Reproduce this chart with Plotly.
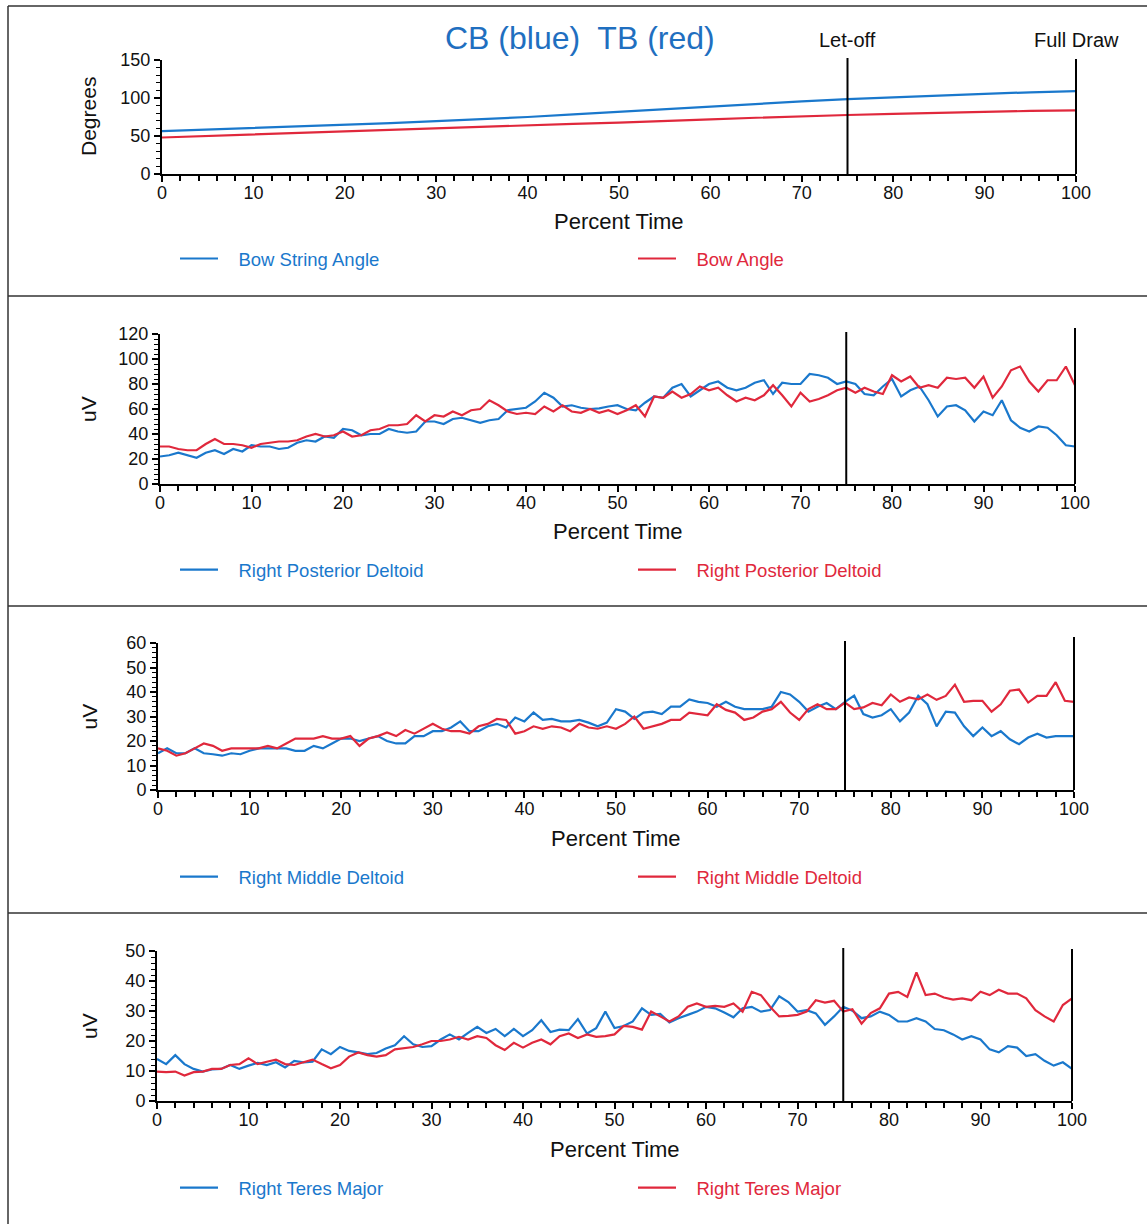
import plotly.graph_objects as go

# ---------------- data ----------------
PCT = list(range(0, 101))
ANGLE_PCT = list(range(0, 101, 5))

BOW_STRING_ANGLE = [56.5, 58.5, 60.5, 62.5, 64.5, 67, 69.5, 72, 75, 78.5, 82, 85.5, 89, 92,
                    95.5, 98.5, 101, 103.5, 105.5, 107.5, 109]
BOW_ANGLE = [48, 50, 52, 54, 55.7, 58, 60, 62.5, 64.5, 66, 67.5, 70, 72, 74, 76, 77.6, 79,
             80.5, 82, 83, 83.8]

POST_DELT_CB = [22, 23, 25, 23, 21, 25, 27, 24, 28, 26, 31, 30, 30, 28, 29, 33, 35, 34, 38, 37,
                44, 43, 39, 40, 40, 44, 42, 41, 42, 50, 50, 48, 52, 53, 51, 49, 51, 52, 59, 60,
                61, 66, 73, 69, 62, 63, 61, 60,
                60.5, 62, 63, 60, 59, 65, 70, 69, 77, 80, 70, 75, 80, 82, 77, 75, 77, 81, 83, 72,
                81, 80, 80, 88, 87, 85, 80, 82, 80, 72, 71, 78, 84, 70, 75, 78, 67, 54, 62, 63,
                59, 50, 58, 55, 67, 51, 45, 42, 46, 45, 39, 31, 30]
POST_DELT_TB = [30, 30, 28, 27, 27, 32, 36, 32, 32, 31, 29, 32, 33, 34, 34, 35, 38, 40, 38, 39,
                42, 38, 39, 43, 44, 47, 47, 48, 55, 50, 55, 54, 58, 55, 59, 60, 67, 63, 58, 56,
                57, 56, 62, 58, 63, 58, 57, 60,
                57, 59, 56, 59, 63, 54, 70, 69, 74, 69, 72, 78, 75, 77, 71, 66, 69, 67, 71, 79,
                71, 62, 73, 66, 68, 71, 75, 77, 73, 77, 74, 72, 87, 82, 86, 77, 79, 77, 85, 84,
                85, 77, 86, 69, 78, 91, 94, 82, 74, 83, 83, 94, 79]

MID_DELT_CB = [15, 17, 15, 15, 17, 15, 14.6, 14, 15, 14.6, 16, 17, 17, 17, 17, 16, 16, 18, 17, 19,
               21, 21, 20, 21, 22, 20, 19, 19, 22, 22, 24, 24, 25.5, 28, 24, 24, 26, 27, 25.5,
               29.6, 28, 31.6, 28.6, 29, 28, 28, 28.6, 27.5,
               26, 27.5, 33, 32, 29, 31.6, 32, 31, 34, 34, 37, 36, 35.5, 34, 36, 34, 33, 33, 33,
               34, 40, 39, 36, 32, 34, 35.5, 33, 36, 38.5, 31, 29.6, 30.5, 33, 28, 31.6, 38.5,
               35, 26, 32, 31.6, 26, 22, 25.5, 22, 24, 20.7, 18.7, 21.4, 23, 21.4, 22, 22, 22]
MID_DELT_TB = [17, 16, 14, 15, 17, 19, 18, 16, 17, 17, 17, 17, 18, 17, 19, 21, 21, 21, 22, 21,
               21, 22, 18, 21, 22, 23.5, 22, 24.5, 23, 25, 27, 25, 24, 24, 23, 26, 27, 29, 28.6,
               23, 24, 26, 25, 26, 25.5, 24, 27, 25.5,
               25, 26, 25, 27, 30, 25, 26, 27, 28.6, 28.6, 31.6, 31, 30.5, 35, 32.7, 31.6, 28.6,
               29.6, 32, 33, 36, 31.6, 28.6, 33, 35, 33, 33, 35.7, 33, 33.7, 35.5, 34.6, 39, 36,
               37.8, 37, 39, 36.8, 38.4, 43, 36, 36.4, 36.4, 32, 35, 40.5, 41, 35.7, 38.4, 38.4,
               44, 36.4, 36]

TERES_CB = [14, 12.3, 15.3, 12.3, 10.7, 9.8, 10.5, 10.7, 12, 10.7, 11.8, 12.7, 12, 12.9, 11.2,
            13.4, 12.9, 13.1, 17.2, 15.6, 18, 16.7, 16.2, 15.6, 16, 17.5, 18.6, 21.6, 18.9, 18,
            18.3, 20.5, 22.2, 20.5, 22.7, 24.7, 22.7, 24, 21.6, 24, 21.6, 23.6, 26.9, 23, 23.8,
            23.6, 27.3, 22.5,
            24.3, 29.8, 24.3, 25, 26.5, 30.9, 28.7, 29, 26.2, 27.6, 28.7, 29.8, 31.4, 30.9, 29.5,
            27.9, 30.9, 31.4, 29.8, 30.3, 34.9, 33, 29.8, 30.3, 29.2, 25.4, 28.2, 31.4, 30.1,
            27.6, 28.2, 29.8, 28.7, 26.5, 26.5, 27.6, 26.5, 24, 23.6, 22.2, 20.5, 21.6, 20.5,
            17.2, 16.2, 18.3, 17.8, 15, 15.6, 13.4, 11.8, 12.9, 10.7]
TERES_TB = [9.8, 9.6, 9.8, 8.5, 9.6, 9.8, 10.7, 10.7, 12, 12.3, 14.2, 12.3, 13.1, 13.8, 12.3, 12,
            12.9, 13.8, 12.3, 10.9, 12, 14.8, 16.2, 15.3, 14.8, 15.3, 17.2, 17.5, 18, 18.9, 20,
            20, 20.5, 21.4, 20.5, 21.6, 21, 18.6, 17, 19.4, 17.8, 19.4, 20.5, 18.9, 21.6, 22.5,
            21, 22.2,
            21.4, 21.6, 22.2, 25, 24.7, 23.8, 29.8, 28.2, 26.5, 28.2, 31.4, 32.5, 31.4, 31.7,
            31.4, 32.5, 29.8, 36.4, 35.3, 31.4, 28.2, 28.4, 28.7, 29.8, 33.6, 32.8, 33.4, 29.8,
            30.6, 25.8, 29.3, 30.9, 35.8, 36.4, 34.7, 42.9, 35.3, 35.8, 34.5, 33.8, 34.2, 33.6,
            36.4, 35.3, 37.1, 35.8, 35.8, 34.2, 30.3, 28.2, 26.5, 32, 34.2]

SERIES_NAMES = [("Bow String Angle", "Bow Angle"),
                ("Right Posterior Deltoid", "Right Posterior Deltoid"),
                ("Right Middle Deltoid", "Right Middle Deltoid"),
                ("Right Teres Major", "Right Teres Major")]
Y_TITLES = ["Degrees", "uV", "uV", "uV"]
Y_MAX = [150, 120, 60, 50]
Y_DTICK = [50, 20, 10, 10]
Y_MINOR = [10, 4, 2, 2]
X_TICKS = list(range(0, 101, 10))
X_MIN, X_MAX = 0, 100
LET_OFF = 75
FULL_DRAW = 100

# ---------------- layout constants ----------------
W, H = 1147, 1224
BLUE = "#1a78cc"
RED = "#e0283c"
TITLE_BLUE = "#1f6fc0"
FONT = "Arial, Liberation Sans, sans-serif"
GAP = "&nbsp;&nbsp;&nbsp;"

# plot boxes in pixels: (left, right, top, bottom)
BOXES = [(162, 1076, 60, 174), (160, 1075, 334, 484), (158, 1074, 643, 790), (157, 1072, 951, 1101)]
XTITLE_Y = [221, 531, 838, 1149]
LEGEND_Y = [259, 570, 877, 1188]
LINE_TOPS_PX = [(58, 59), (332, 328), (641, 637), (948, 949)]
SEPARATORS = [296, 606, 913]


def px(x):
    return x / W


def py(y):
    return 1 - y / H


data_pairs = [
    (ANGLE_PCT, BOW_STRING_ANGLE, BOW_ANGLE),
    (PCT, POST_DELT_CB, POST_DELT_TB),
    (PCT, MID_DELT_CB, MID_DELT_TB),
    (PCT, TERES_CB, TERES_TB),
]

fig = go.Figure()
layout = dict(
    width=W, height=H, margin=dict(l=0, r=0, t=0, b=0, autoexpand=False),
    paper_bgcolor="white", plot_bgcolor="white",
    font=dict(family=FONT, color="black"),
    showlegend=True,
)
shapes = []
annotations = []

for i, (xs, cb, tb) in enumerate(data_pairs):
    n = i + 1
    xa = "x" if n == 1 else f"x{n}"
    ya = "y" if n == 1 else f"y{n}"
    lg = "legend" if n == 1 else f"legend{n}"
    cb_name, tb_name = SERIES_NAMES[i]
    fig.add_trace(go.Scatter(x=xs, y=cb, mode="lines", xaxis=xa, yaxis=ya,
                             line=dict(color=BLUE, width=2.2),
                             name=f"{GAP}<span style='color:{BLUE}'>{cb_name}</span>", legend=lg))
    fig.add_trace(go.Scatter(x=xs, y=tb, mode="lines", xaxis=xa, yaxis=ya,
                             line=dict(color=RED, width=2.2),
                             name=f"{GAP}<span style='color:{RED}'>{tb_name}</span>", legend=lg))

    l, r, t, b = BOXES[i]
    axis_common = dict(showline=True, linecolor="black", linewidth=2, showgrid=False,
                       zeroline=False, ticks="outside", tickcolor="black", tickwidth=1.8,
                       ticklen=6, tickfont=dict(size=18, family=FONT, color="#111111"),
                       automargin=False)
    layout["xaxis" if n == 1 else f"xaxis{n}"] = dict(
        domain=[px(l), px(r)], range=[X_MIN, X_MAX], anchor=ya,
        tickmode="array", tickvals=X_TICKS, ticklabelstandoff=-5,
        minor=dict(dtick=2, ticklen=5, tickcolor="black", tickwidth=1.8, ticks="outside"),
        **axis_common)
    layout["yaxis" if n == 1 else f"yaxis{n}"] = dict(
        domain=[py(b), py(t)], range=[0, Y_MAX[i]], anchor=xa, dtick=Y_DTICK[i],
        minor=dict(dtick=Y_MINOR[i], ticklen=4, tickcolor="black", tickwidth=1.3, ticks="outside"),
        **axis_common)

    layout[lg] = dict(orientation="h", x=px(175), xanchor="left", y=py(LEGEND_Y[i]),
                      yanchor="middle", entrywidth=405, entrywidthmode="pixels",
                      itemwidth=38,
                      font=dict(size=18.5, family=FONT), bgcolor="rgba(0,0,0,0)",
                      traceorder="normal")

    # Let-off and Full Draw markers (positions on the x axis, in axis-domain units)
    ht = b - t
    for xv, top_px in zip((LET_OFF, FULL_DRAW), LINE_TOPS_PX[i]):
        xd = (xv - X_MIN) / (X_MAX - X_MIN)
        shapes.append(dict(type="line", xref=f"{xa} domain", yref=f"{ya} domain",
                           x0=xd, x1=xd, y0=0, y1=(b - top_px) / ht,
                           line=dict(color="black", width=2), layer="above"))

    annotations.append(dict(text="Percent Time", xref="paper", yref="paper",
                            x=px((l + r) / 2), y=py(XTITLE_Y[i]), showarrow=False,
                            font=dict(size=22, family=FONT, color="#111111"),
                            xanchor="center", yanchor="middle"))
    annotations.append(dict(text=Y_TITLES[i], xref="paper", yref="paper", textangle=-90,
                            x=px(89), y=py((t + b) / 2), showarrow=False,
                            font=dict(size=21, family=FONT, color="#111111"),
                            xanchor="center", yanchor="middle"))

annotations.append(dict(text="CB (blue)&nbsp; TB (red)", xref="paper", yref="paper",
                        x=px(580), y=py(38), showarrow=False,
                        font=dict(size=32, family=FONT, color=TITLE_BLUE),
                        xanchor="center", yanchor="middle"))
annotations.append(dict(text="Let-off", xref="x", yref="paper", x=LET_OFF, y=py(40),
                        showarrow=False, font=dict(size=20, family=FONT, color="#111111"),
                        xanchor="center", yanchor="middle"))
annotations.append(dict(text="Full Draw", xref="x", yref="paper", x=FULL_DRAW, y=py(40),
                        showarrow=False, font=dict(size=20, family=FONT, color="#111111"),
                        xanchor="center", yanchor="middle"))

# panel frame
frame = dict(color="#333333", width=1.5)
shapes.append(dict(type="line", xref="paper", yref="paper", x0=px(8), x1=1, y0=py(6), y1=py(6), line=frame))
shapes.append(dict(type="line", xref="paper", yref="paper", x0=px(8), x1=px(8), y0=py(6), y1=0, line=frame))
for s in SEPARATORS:
    shapes.append(dict(type="line", xref="paper", yref="paper", x0=px(8), x1=1, y0=py(s), y1=py(s), line=frame))

layout["shapes"] = shapes
layout["annotations"] = annotations
fig.update_layout(**layout)
fig.write_html("out.html", config={"displayModeBar": False},
               post_script="document.body.style.margin='0';document.body.style.overflow='hidden';")
